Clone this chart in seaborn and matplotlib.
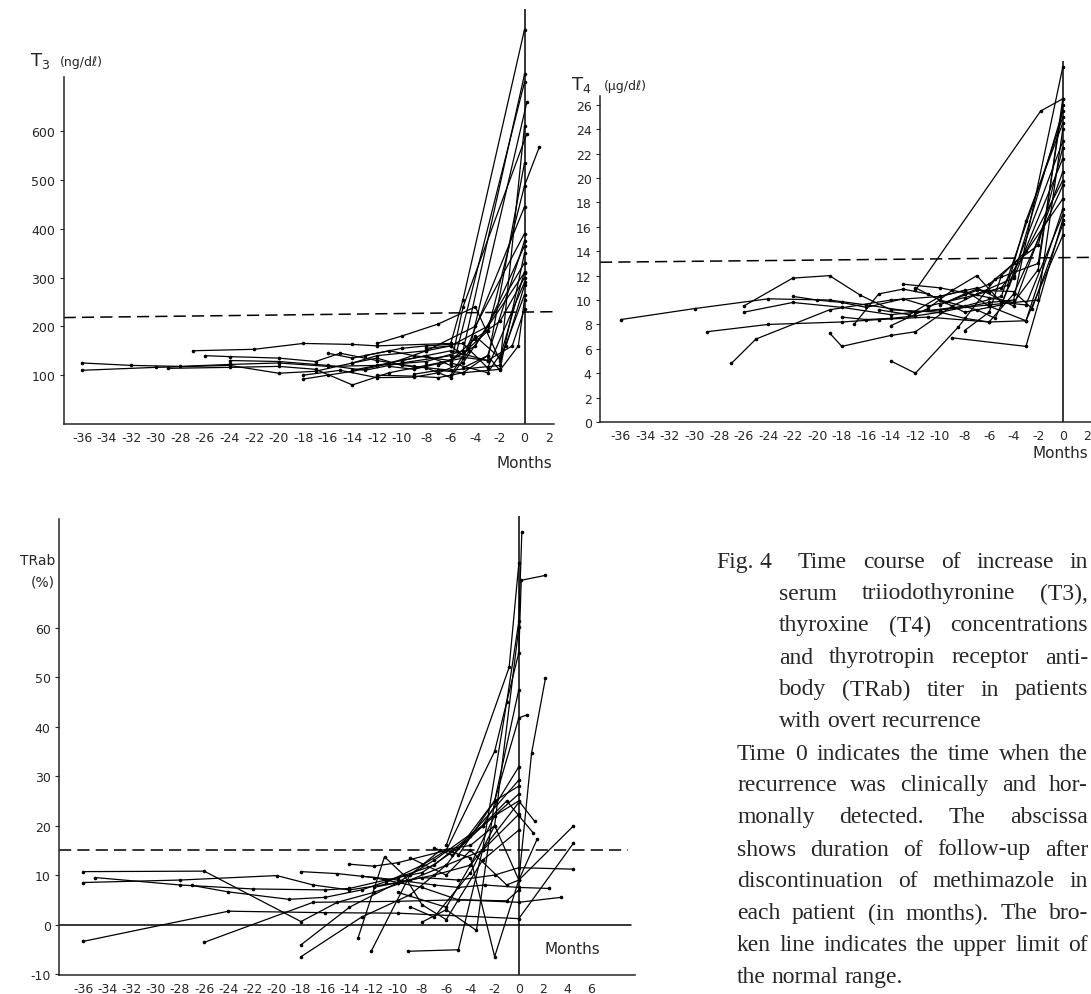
import matplotlib
matplotlib.use("Agg")
import matplotlib.pyplot as plt
import pandas as pd
import seaborn as sns

sns.set_theme(style="ticks")
plt.rcParams["font.family"] = ["DejaVu Sans"]
plt.rcParams["axes.unicode_minus"] = False

# ---- T3 (ng/dl): one list of months / values per patient ----
t3_months = [
    [-36, -32, -28, -24, -20, -16, -12, -8, -5, 0],
    [-36, -30, -24, -20, -17, -14, -12, -8, -4, 0],
    [-29, -24, -20, -17, -14, -11, -8, -5, 0],
    [-27, -22, -18, -14, -12, -6, -5, 0],
    [-26, -24, -20, -17, -15, -12, -9, -6, -2, 0],
    [-24, -20, -16, -13, -10, -6, -3, 0],
    [-18, -16, -14, -12, -10, -8, -6, -3, 0],
    [-18, -15, -12, -9, -7, -5, 0],
    [-16, -14, -11, -9, -6, -4, 0],
    [-14, -12, -10, -8, -6, -4.5, 0.2],
    [-14, -11, -8, -6, -3, -1, 0],
    [-13, -10, -8, -5, -3, 0],
    [-12, -10, -7, -4, -2, 0],
    [-12, -9, -7, -5, -2, 0],
    [-11, -9, -6, -4, -2, 0],
    [-10, -8, -6, -5, 0.2],
    [-9, -7, -5, -3, 0],
    [-8, -6, -5.5, 0],
    [-7, -5, -3, 0, 1.2],
    [-6, -4, -2, 0],
    [-5, -3, -2, -0.5, 0],
    [-6, -3, -1.5, 0],
]
t3_values = [
    [125, 120, 118, 122, 125, 118, 120, 128, 150, 716],
    [110, 116, 120, 104, 108, 125, 140, 150, 200, 390],
    [114, 116, 118, 112, 80, 105, 120, 135, 445],
    [150, 153, 165, 163, 160, 165, 255, 808],
    [140, 138, 135, 128, 145, 130, 118, 110, 120, 610],
    [130, 128, 120, 110, 125, 140, 130, 535],
    [92, 100, 108, 118, 132, 150, 160, 200, 365],
    [100, 110, 95, 96, 105, 125, 310],
    [145, 135, 150, 140, 130, 160, 330],
    [125, 135, 120, 115, 95, 150, 660],
    [110, 125, 140, 150, 130, 160, 235],
    [140, 155, 160, 165, 115, 290],
    [165, 180, 205, 240, 130, 265],
    [100, 98, 95, 105, 112, 350],
    [118, 112, 130, 175, 210, 300],
    [130, 140, 120, 240, 595],
    [102, 110, 105, 140, 375],
    [155, 160, 150, 700],
    [120, 145, 190, 488, 567],
    [100, 180, 135, 312],
    [115, 140, 110, 160, 255],
    [125, 105, 160, 284],
]

# ---- T4 (ug/dl) ----
t4_months = [
    [-36, -30, -24, -19, -16, -12, -8, -5, 0],
    [-26, -22, -19, -16.5, -14, -10, -6, -4, 0],
    [-27, -25, -19, -14, -10, -7, -4, 0],
    [-29, -24, -18, -15, -11, -6, -3, 0],
    [-26, -22, -18, -14, -10, -6, -2, 0],
    [-22, -20, -18, -16, -13, -11, -8, -5, 0],
    [-19, -18, -14, -12, -9, -7, -4, 0],
    [-14, -12, -8.5, -5.5, -2, 0],
    [-9, -3, 0],
    [-18, -16, -14, -12, -10, -8, -6, -4, 0],
    [-17, -15, -13, -11, -8, -5, 0],
    [-13, -10, -8, -6, -4, -2, 0],
    [-15, -12.5, -10, -8, -6, -3, 0],
    [-14, -11, -9, -7, -5, -3, 0],
    [-12, -10, -7, -5.5, -4, 0],
    [-10, -8, -6, -4, -2, 0],
    [-8, -6, -5, -3, 0],
    [-12, -1.8, 0],
    [-9.5, -7, -4, -2.5, 0],
    [-6, -4.5, -3, 0],
]
t4_values = [
    [8.4, 9.3, 10.1, 10.0, 9.6, 9.0, 9.5, 10.3, 25.0],
    [9.5, 11.8, 12.0, 10.4, 9.2, 9.0, 9.8, 10.0, 29.1],
    [4.8, 6.8, 9.2, 10.0, 10.3, 11.0, 9.5, 20.5],
    [7.4, 8.0, 8.2, 8.4, 8.6, 8.2, 8.3, 17.5],
    [9.0, 9.8, 9.4, 8.8, 9.2, 9.6, 10.0, 24.0],
    [10.3, 10.0, 9.8, 9.4, 10.1, 9.5, 10.2, 11.0, 18.3],
    [7.3, 6.2, 7.1, 7.4, 9.5, 10.5, 11.8, 21.6],
    [5.0, 4.0, 7.8, 11.7, 13.0, 26.0],
    [6.9, 6.2, 16.6],
    [8.6, 8.4, 8.5, 8.7, 9.0, 8.5, 8.2, 10.5, 19.4],
    [8.0, 10.5, 10.9, 10.5, 9.0, 9.6, 23.0],
    [11.3, 11.0, 10.6, 10.2, 9.8, 12.5, 26.5],
    [9.2, 8.8, 10.3, 10.8, 9.5, 8.3, 15.3],
    [7.9, 9.3, 10.8, 12.0, 9.8, 9.6, 17.0],
    [11.0, 10.0, 9.2, 8.5, 12.0, 25.5],
    [9.6, 10.5, 11.3, 13.0, 14.5, 22.5],
    [7.5, 9.0, 12.0, 14.0, 19.8],
    [10.8, 25.5, 26.5],
    [9.8, 10.8, 10.7, 9.3, 16.2],
    [10.7, 11.2, 16.5, 24.5],
]

# ---- TRab (%) ----
trab_months = [
    [-36, -26, -18, -15, -12, -9, -6, -3, 0],
    [-36, -28, -20, -17, -14, -10, -7, -4, 0],
    [-35, -28, -22, -16, -14, -11, -8, -5, 0],
    [-27, -24, -19, -16, -13, -10, -7, -4, 0],
    [-36, -24, -16, -10, 0, 4.5],
    [-26, -17, -10, -5, 0, 3.5],
    [-18, -14, -10, -7, -3, 0],
    [-18, -13, -9, -6, -2, 0],
    [-18, -15, -12, -8, -5, -1, 0],
    [-13.3, -11.1, -9.5, -8, -6, -3, 0],
    [-12.2, -9, -6.5, -4, -2, 0],
    [-9.2, -5, -3, -1, 0, 0.25],
    [-14, -12, -10, -6, -2, 0, 0.2, 2.2],
    [-9, -7, -4, -2, 0, 1.05, 2.2],
    [-8, -6, -3.5, -2, 0, 0.7],
    [-10, -6, -4, -2, 0, 1.3],
    [-11, -8, -6, -4, -2, 0, 1.5],
    [-9, -6, -4, -1, 0, 4.5],
    [-13, -10, -7, -5, -2.8, 0, 2.5],
    [-7, -5.5, -3, -1, 0, 1.2],
    [-12, -8, -5, -2, 0, 4.5],
    [-6, -0.8, 0],
    [-5, -2, 0],
]
trab_values = [
    [10.7, 10.8, 0.6, 4.5, 6.5, 9.0, 12, 15, 22.3],
    [8.5, 9.0, 9.9, 8.0, 7.0, 8.5, 10, 12, 24.7],
    [9.5, 8.0, 7.2, 7.0, 7.3, 9.0, 10.5, 15.5, 26.4],
    [7.9, 6.6, 5.1, 5.5, 7.0, 9.5, 12, 18, 29.2],
    [-3.4, 2.7, 2.4, 2.3, 1.2, 16.4],
    [-3.6, 4.5, 4.7, 5.0, 4.5, 5.5],
    [-4.1, 3.5, 8.5, 13, 20, 31.9],
    [-6.5, 1.5, 6.0, 12, 25, 47.5],
    [10.7, 10.3, 9.5, 7.5, 5.0, 4.8, 7.0],
    [-2.8, 13.7, 10.0, 4.0, 1.0, 13, 19.1],
    [-5.4, 10, 15, 16, 20, 60.1],
    [-5.4, -5.1, 15, 45, 61.3, 79.4],
    [12.2, 11.8, 12.5, 15, 35, 55, 69.6, 70.6],
    [3.6, 1.5, 10.5, 20, 9, 34.6, 49.8],
    [0.5, 3.0, -1.2, 25, 41.8, 42.4],
    [6.5, 3.5, 12, 22, 25, 20.9],
    [8.5, 12, 15, 13.5, -6.5, 9, 17.2],
    [13.5, 10, 15, 8, 9, 19.9],
    [9.8, 9.0, 8.0, 7.5, 8.0, 7.5, 7.3],
    [15.5, 14, 20, 25, 22, 18.5],
    [7.5, 9.5, 9.0, 10, 11.5, 11.2],
    [16, 52, 73],
    [14, 25, 28],
]

caption_top = [
    "serum triiodothyronine (T3),",
    "thyroxine (T4) concentrations",
    "and thyrotropin receptor anti-",
    "body (TRab) titer in patients",
]
caption_bottom = [
    "Time 0 indicates the time when the",
    "recurrence was clinically and hor-",
    "monally detected. The abscissa",
    "shows duration of follow-up after",
    "discontinuation of methimazole in",
    "each patient (in months). The bro-",
    "ken line indicates the upper limit of",
]


def long_form(months, values):
    rows = []
    for i, (ms, vs) in enumerate(zip(months, values)):
        for m, v in zip(ms, vs):
            rows.append((i, m, v))
    return pd.DataFrame(rows, columns=["patient", "month", "value"])


W, H = 1091, 995
fig = plt.figure(figsize=(W / 100, H / 100), dpi=100)


def px_axes(left, right, top, bottom):
    return fig.add_axes([left / W, 1 - bottom / H, (right - left) / W, (bottom - top) / H])


def panel(ax, months, values, xlim, ylim, spine_top, yticks, xticks, limit, zero_line=None):
    df = long_form(months, values)
    sns.lineplot(data=df, x="month", y="value", units="patient", estimator=None,
                 sort=False, color="black", lw=0.9, marker="o", markersize=2.6,
                 markeredgewidth=0, legend=False, ax=ax)
    ax.set_xlim(*xlim)
    ax.set_ylim(*ylim)
    ax.axvline(0, color="black", lw=1.1)
    ax.plot([xlim[0], limit[2]], [limit[0], limit[1]], color="black", lw=1.1,
            dashes=(8, 4))
    if zero_line is not None:
        ax.plot([xlim[0], zero_line], [0, 0], color="black", lw=1.1)
    sns.despine(ax=ax)
    ax.spines["left"].set_bounds(ylim[0], spine_top)
    ax.spines["left"].set_linewidth(1.1)
    ax.spines["bottom"].set_linewidth(1.1)
    ax.set_yticks(yticks)
    ax.set_xticks(xticks)
    ax.tick_params(axis="y", length=3, width=0.8, pad=3, labelsize=9)
    ax.tick_params(axis="x", length=0, pad=5, labelsize=9)
    ax.set_xlabel("")
    ax.set_ylabel("")
    ax.patch.set_alpha(0)


ax1 = px_axes(63.6, 554, 10, 425)
panel(ax1, t3_months, t3_values, (-37.5, 2.4), (0, 850), 710,
      range(100, 700, 100), range(-36, 3, 2), (218, 230, 2.4))
fig.text(30 / W, 1 - 66 / H, "T$_3$", fontsize=13, va="baseline")
fig.text(60 / W, 1 - 66 / H, "(ng/dℓ)", fontsize=9, va="baseline")
fig.text(552 / W, 1 - 463 / H, "Months", fontsize=11, ha="right", va="center")

ax2 = px_axes(600, 1091, 62, 423)
panel(ax2, t4_months, t4_values, (-37.7, 2.3), (0, 29.6), 26.7,
      range(0, 27, 2), range(-36, 3, 2), (13.1, 13.5, 2.3))
fig.text(571 / W, 1 - 90 / H, "T$_4$", fontsize=13, va="baseline")
fig.text(604 / W, 1 - 90 / H, "(μg/dℓ)", fontsize=9, va="baseline")
fig.text(1088 / W, 1 - 453 / H, "Months", fontsize=11, ha="right", va="center")

ax3 = px_axes(59, 635, 517, 976)
panel(ax3, trab_months, trab_values, (-38, 9.6), (-10.2, 82.6), 81.9,
      range(-10, 70, 10), range(-36, 7, 2), (15, 15, 9.0), zero_line=9.3)
fig.text(55 / W, 1 - 561 / H, "TRab", fontsize=10, ha="right", va="center")
fig.text(55 / W, 1 - 582 / H, "(%)", fontsize=10, ha="right", va="center")
fig.text(572 / W, 1 - 950 / H, "Months", fontsize=11, ha="center", va="center")

# ---- caption, justified word by word ----
serif = ["Liberation Serif", "DejaVu Serif"]
renderer = fig.canvas.get_renderer()


def caption_line(line, x0, x1, y, justify=True):
    words = line.split()
    texts = [fig.text(0, 1 - y / H, w, fontsize=17, family=serif, va="center")
             for w in words]
    widths = [t.get_window_extent(renderer).width for t in texts]
    if justify and len(words) > 1:
        gap = max((x1 - x0 - sum(widths)) / (len(words) - 1), 4.0)
    else:
        gap = 6.0
    x = x0
    for t, w in zip(texts, widths):
        t.set_x(x / W)
        x += w + gap


caption_line("Fig. 4", 716, 770, 563, justify=False)
caption_line("Time course of increase in", 798, 1088, 563)
for i, line in enumerate(caption_top):
    caption_line(line, 779, 1088, 594 + 32 * i)
caption_line("with overt recurrence", 779, 1088, 722, justify=False)
for i, line in enumerate(caption_bottom):
    caption_line(line, 737, 1088, 754 + 32 * i)
caption_line("the normal range.", 737, 1088, 754 + 32 * 7, justify=False)

fig.savefig("out.png", dpi=100)
